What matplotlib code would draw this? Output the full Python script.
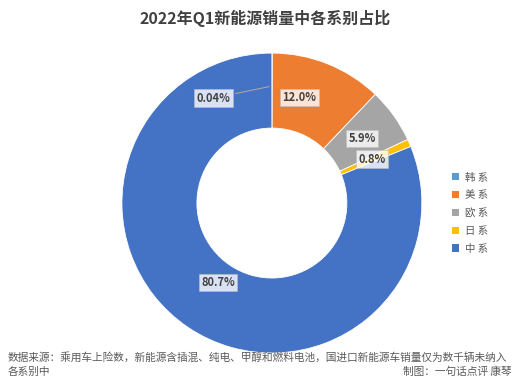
"""2022年Q1新能源销量中各系别占比 环形图."""

import numpy as np
import matplotlib

matplotlib.use("Agg")
import matplotlib.pyplot as plt
from matplotlib.patches import Patch

plt.rcParams["font.family"] = ["Noto Sans CJK SC", "DejaVu Sans"]
plt.rcParams["axes.unicode_minus"] = False

# 数据
categories = ["韩系", "美系", "欧系", "日系", "中系"]
shares = [0.04, 12.0, 5.9, 0.8, 80.7]
share_labels = ["0.04%", "12.0%", "5.9%", "0.8%", "80.7%"]

COLORS = ["#5B9BD5", "#ED7D31", "#A5A5A5", "#FFC000", "#4472C4"]
TEXT_GREY = "#404040"

fig = plt.figure(figsize=(5.3, 3.86), dpi=100, facecolor="white")
ax = fig.add_axes([0.230, 0.0855, 0.566, 0.777])

wedges, _ = ax.pie(
    shares,
    colors=COLORS,
    startangle=90,
    counterclock=False,
    radius=1.0,
    wedgeprops=dict(width=0.5, edgecolor="white", linewidth=0.6),
)
ax.set_xlim(-1, 1)
ax.set_ylim(-1, 1)
ax.set_aspect("equal")
ax.axis("off")

box = dict(boxstyle="square,pad=0.2", facecolor="white", alpha=0.8,
           edgecolor="#BFBFBF", linewidth=0.5)
label_r = [0.74, 0.76, 0.74, 0.73, 0.64]

for i, w in enumerate(wedges):
    mid = np.deg2rad((w.theta1 + w.theta2) / 2)
    x, y = np.cos(mid), np.sin(mid)
    if i == 0:
        # 韩系太小，标签引出到左侧
        ax.annotate(
            share_labels[i], xy=(x * 0.78, y * 0.78),
            xytext=(-0.39, 0.70), ha="center", va="center",
            fontsize=8, fontweight="bold", color=TEXT_GREY, bbox=box,
            arrowprops=dict(arrowstyle="-", color="#A6A6A6", lw=0.8),
        )
        continue
    r = label_r[i]
    dx = 0.1 if i == 1 else 0.0
    ax.text(x * r - dx, y * r, share_labels[i], ha="center", va="center",
            fontsize=8, fontweight="bold", color=TEXT_GREY, bbox=box)

fig.text(0.5, 0.953, "2022年Q1新能源销量中各系别占比", ha="center", va="center",
         fontsize=11.5, fontweight="bold", color="#404040")

handles = [Patch(facecolor=c, edgecolor="none") for c in COLORS]
fig.legend(handles, [" ".join(c) for c in categories], loc="center left",
           bbox_to_anchor=(0.835, 0.448),
           frameon=False, fontsize=7.5, labelcolor="#595959",
           handlelength=0.7, handleheight=0.7, handletextpad=0.6,
           labelspacing=0.75)

fig.text(0.015, 0.074,
         "数据来源：乘用车上险数，新能源含插混、纯电、甲醇和燃料电池，国进口新能源车销量仅为数千辆未纳入",
         ha="left", va="center", fontsize=7.7, color="#595959")
fig.text(0.015, 0.036, "各系别中", ha="left", va="center", fontsize=7.7, color="#595959")
fig.text(0.965, 0.036, "制图：一句话点评 康琴", ha="right", va="center",
         fontsize=7.7, color="#595959")

fig.savefig("out.png", dpi=100, facecolor="white")
plt.close(fig)
